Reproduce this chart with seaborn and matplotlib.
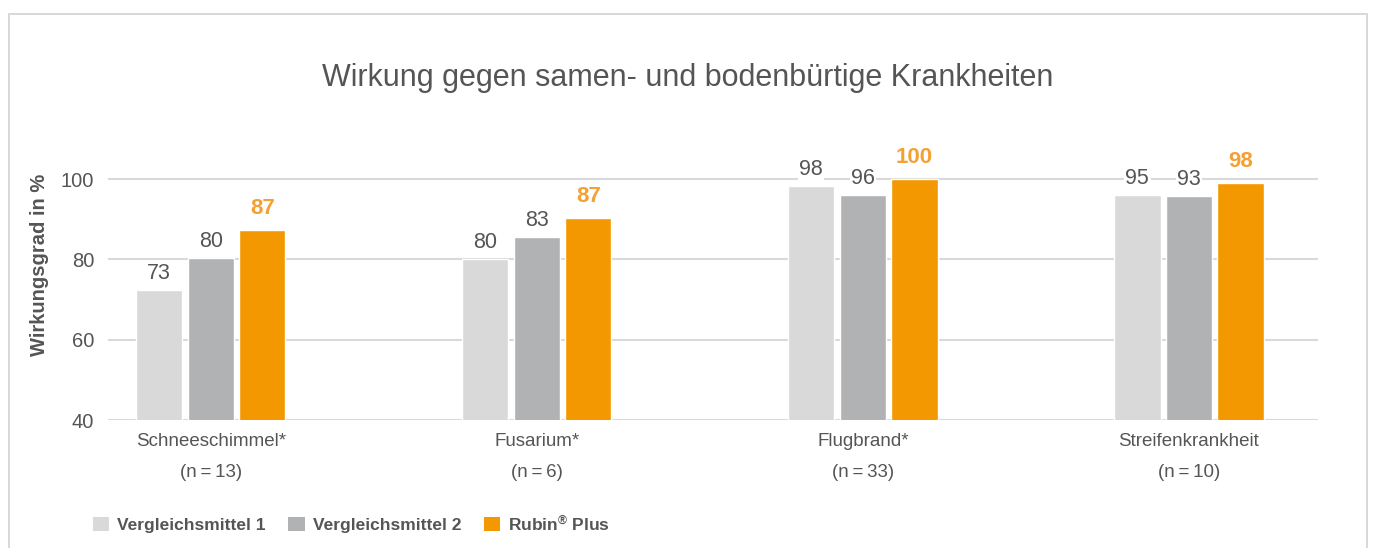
import matplotlib.pyplot as plt
import matplotlib.patches as mpatches
import numpy as np
import pandas as pd
import seaborn as sns

sns.set_theme(style="white")
plt.rcParams['font.family'] = ['Liberation Sans', 'DejaVu Sans']
plt.rcParams['mathtext.default'] = 'regular'

# data
krankheiten = ["Schneeschimmel*", "Fusarium*", "Flugbrand*", "Streifenkrankheit"]
stichprobe = ["(n\u2009=\u200913)", "(n\u2009=\u20096)", "(n\u2009=\u200933)", "(n\u2009=\u200910)"]
mittel = ["Vergleichsmittel 1", "Vergleichsmittel 2", "Rubin$^{\u00ae}$ Plus"]
# bar heights as drawn
vm1_hoehe = [72.3, 80.0, 98.2, 96.0]
vm2_hoehe = [80.3, 85.5, 96.0, 95.7]
rubin_hoehe = [87.3, 90.2, 100.0, 99.0]
# printed labels
vm1_label = [73, 80, 98, 95]
vm2_label = [80, 83, 96, 93]
rubin_label = [87, 87, 100, 98]

farben = ["#d9d9d9", "#b1b2b4", "#f39800"]
txt = "#555555"
orange_txt = "#f4a033"

rows = []
for m, hoehe in zip(mittel, [vm1_hoehe, vm2_hoehe, rubin_hoehe]):
    for k, h in zip(krankheiten, hoehe):
        rows.append(dict(krankheit=k, mittel=m, wert=h))
df = pd.DataFrame(rows)

fig = plt.figure(figsize=(13.75, 5.48), dpi=100)
ax = fig.add_axes([108/1375, 1-420/548, (1318-108)/1375, (420-175)/548])

sns.barplot(data=df, x="krankheit", y="wert", hue="mittel", hue_order=mittel,
            order=krankheiten, palette=farben, saturation=1, width=0.474, gap=0.1,
            errorbar=None, legend=False, ax=ax)

ax.set_ylim(40, 101)
ax.set_xlim(-0.315, 3.396)
ax.set_yticks([40, 60, 80, 100])
ax.yaxis.grid(True, color="#d9d9d9", lw=1.5)
ax.set_axisbelow(True)
for s in ax.spines.values():
    s.set_visible(False)
ax.tick_params(axis="y", length=0, pad=10, labelsize=14.5, labelcolor=txt)
ax.tick_params(axis="x", length=0, pad=9.5, labelsize=13.5, labelcolor=txt)
ax.set_xlabel("")
ax.set_ylabel("")

# second line under each category: sample size
for i, n in enumerate(stichprobe):
    ax.annotate(n, (i, 0), xycoords=("data", "axes fraction"), xytext=(0, -37.5),
                textcoords="offset points", ha="center", va="center",
                fontsize=13.5, color=txt, annotation_clip=False)

# value labels
for i, (cont, labs) in enumerate(zip(ax.containers, [vm1_label, vm2_label, rubin_label])):
    for bar, lab in zip(cont, labs):
        cx = bar.get_x() + bar.get_width()/2
        top = bar.get_height()
        if i == 2:
            ax.annotate(str(lab), (cx, top), xytext=(0, 11.5), textcoords="offset points",
                        ha="center", va="baseline", fontsize=16, fontweight="bold",
                        color=orange_txt, annotation_clip=False,
                        bbox=dict(facecolor="white", edgecolor="none", pad=1))
        else:
            ax.annotate(str(lab), (cx, top), xytext=(0, 8), textcoords="offset points",
                        ha="center", va="baseline", fontsize=15.5, color=txt,
                        annotation_clip=False,
                        bbox=dict(facecolor="white", edgecolor="none", pad=1))

fig.text(0.5, 1-78/548, "Wirkung gegen samen- und bodenbürtige Krankheiten",
         ha="center", va="center", fontsize=22, color=txt)
fig.text(40/1375, 1-265/548, "Wirkungsgrad in %", rotation=90, ha="center",
         va="center", fontsize=14.5, fontweight="bold", color=txt)

handles = [mpatches.Patch(facecolor=c, edgecolor="none") for c in farben]
fig.legend(handles, mittel, loc="center left", bbox_to_anchor=(93/1375, 1-523/548),
           ncol=3, frameon=False, prop=dict(weight="bold", size=12.5),
           labelcolor=txt, handlelength=0.95, handleheight=0.95, handletextpad=0.45,
           columnspacing=1.3, borderpad=0, borderaxespad=0)

frame = mpatches.Rectangle((9/1375, -0.1), (1367-9)/1375, 1.1-14/548,
                           transform=fig.transFigure, fill=False,
                           edgecolor="#d5d5d5", lw=1.3)
fig.add_artist(frame)

fig.savefig("out.png", dpi=100)
